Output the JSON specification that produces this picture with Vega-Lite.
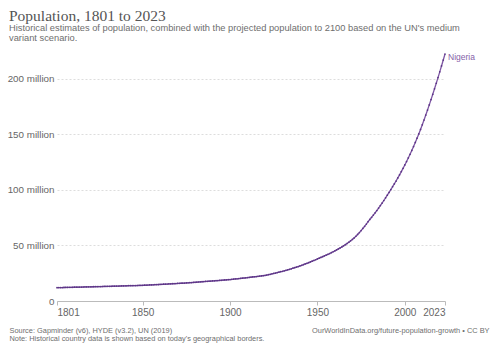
{
  "$schema": "https://vega.github.io/schema/vega-lite/v6.json",
  "width": 388,
  "height": 247,
  "autosize": {"type": "none"},
  "padding": {"left": 57, "top": 54, "right": 55, "bottom": 52},
  "background": "white",
  "view": {"stroke": null},
  "config": {"font": "Liberation Sans"},
  "title": {
    "text": "Population, 1801 to 2023",
    "subtitle": ["Historical estimates of population, combined with the projected population to 2100 based on the UN's medium", "variant scenario."],
    "anchor": "start",
    "frame": "group",
    "dx": -48,
    "offset": 8,
    "font": "Liberation Serif",
    "fontSize": 15.5,
    "fontWeight": "normal",
    "color": "#555555",
    "subtitleFont": "Liberation Sans",
    "subtitleFontSize": 9.3,
    "subtitleColor": "#6e6e6e",
    "subtitleLineHeight": 9.8,
    "subtitlePadding": 0
  },
  "data": {"values": [
    {"country": "Nigeria", "year": 1801, "population_million": 12.00},
    {"country": "Nigeria", "year": 1802, "population_million": 12.04},
    {"country": "Nigeria", "year": 1803, "population_million": 12.08},
    {"country": "Nigeria", "year": 1804, "population_million": 12.12},
    {"country": "Nigeria", "year": 1805, "population_million": 12.16},
    {"country": "Nigeria", "year": 1806, "population_million": 12.20},
    {"country": "Nigeria", "year": 1807, "population_million": 12.24},
    {"country": "Nigeria", "year": 1808, "population_million": 12.28},
    {"country": "Nigeria", "year": 1809, "population_million": 12.32},
    {"country": "Nigeria", "year": 1810, "population_million": 12.36},
    {"country": "Nigeria", "year": 1811, "population_million": 12.40},
    {"country": "Nigeria", "year": 1812, "population_million": 12.44},
    {"country": "Nigeria", "year": 1813, "population_million": 12.48},
    {"country": "Nigeria", "year": 1814, "population_million": 12.52},
    {"country": "Nigeria", "year": 1815, "population_million": 12.56},
    {"country": "Nigeria", "year": 1816, "population_million": 12.60},
    {"country": "Nigeria", "year": 1817, "population_million": 12.64},
    {"country": "Nigeria", "year": 1818, "population_million": 12.68},
    {"country": "Nigeria", "year": 1819, "population_million": 12.72},
    {"country": "Nigeria", "year": 1820, "population_million": 12.76},
    {"country": "Nigeria", "year": 1821, "population_million": 12.80},
    {"country": "Nigeria", "year": 1822, "population_million": 12.84},
    {"country": "Nigeria", "year": 1823, "population_million": 12.88},
    {"country": "Nigeria", "year": 1824, "population_million": 12.92},
    {"country": "Nigeria", "year": 1825, "population_million": 12.96},
    {"country": "Nigeria", "year": 1826, "population_million": 13.00},
    {"country": "Nigeria", "year": 1827, "population_million": 13.04},
    {"country": "Nigeria", "year": 1828, "population_million": 13.08},
    {"country": "Nigeria", "year": 1829, "population_million": 13.12},
    {"country": "Nigeria", "year": 1830, "population_million": 13.16},
    {"country": "Nigeria", "year": 1831, "population_million": 13.20},
    {"country": "Nigeria", "year": 1832, "population_million": 13.25},
    {"country": "Nigeria", "year": 1833, "population_million": 13.30},
    {"country": "Nigeria", "year": 1834, "population_million": 13.35},
    {"country": "Nigeria", "year": 1835, "population_million": 13.40},
    {"country": "Nigeria", "year": 1836, "population_million": 13.45},
    {"country": "Nigeria", "year": 1837, "population_million": 13.50},
    {"country": "Nigeria", "year": 1838, "population_million": 13.55},
    {"country": "Nigeria", "year": 1839, "population_million": 13.60},
    {"country": "Nigeria", "year": 1840, "population_million": 13.65},
    {"country": "Nigeria", "year": 1841, "population_million": 13.70},
    {"country": "Nigeria", "year": 1842, "population_million": 13.74},
    {"country": "Nigeria", "year": 1843, "population_million": 13.78},
    {"country": "Nigeria", "year": 1844, "population_million": 13.82},
    {"country": "Nigeria", "year": 1845, "population_million": 13.86},
    {"country": "Nigeria", "year": 1846, "population_million": 13.90},
    {"country": "Nigeria", "year": 1847, "population_million": 13.94},
    {"country": "Nigeria", "year": 1848, "population_million": 13.98},
    {"country": "Nigeria", "year": 1849, "population_million": 14.04},
    {"country": "Nigeria", "year": 1850, "population_million": 14.10},
    {"country": "Nigeria", "year": 1851, "population_million": 14.18},
    {"country": "Nigeria", "year": 1852, "population_million": 14.26},
    {"country": "Nigeria", "year": 1853, "population_million": 14.34},
    {"country": "Nigeria", "year": 1854, "population_million": 14.42},
    {"country": "Nigeria", "year": 1855, "population_million": 14.50},
    {"country": "Nigeria", "year": 1856, "population_million": 14.58},
    {"country": "Nigeria", "year": 1857, "population_million": 14.66},
    {"country": "Nigeria", "year": 1858, "population_million": 14.74},
    {"country": "Nigeria", "year": 1859, "population_million": 14.82},
    {"country": "Nigeria", "year": 1860, "population_million": 14.90},
    {"country": "Nigeria", "year": 1861, "population_million": 14.99},
    {"country": "Nigeria", "year": 1862, "population_million": 15.08},
    {"country": "Nigeria", "year": 1863, "population_million": 15.17},
    {"country": "Nigeria", "year": 1864, "population_million": 15.26},
    {"country": "Nigeria", "year": 1865, "population_million": 15.35},
    {"country": "Nigeria", "year": 1866, "population_million": 15.44},
    {"country": "Nigeria", "year": 1867, "population_million": 15.53},
    {"country": "Nigeria", "year": 1868, "population_million": 15.62},
    {"country": "Nigeria", "year": 1869, "population_million": 15.71},
    {"country": "Nigeria", "year": 1870, "population_million": 15.80},
    {"country": "Nigeria", "year": 1871, "population_million": 15.89},
    {"country": "Nigeria", "year": 1872, "population_million": 15.98},
    {"country": "Nigeria", "year": 1873, "population_million": 16.07},
    {"country": "Nigeria", "year": 1874, "population_million": 16.16},
    {"country": "Nigeria", "year": 1875, "population_million": 16.25},
    {"country": "Nigeria", "year": 1876, "population_million": 16.37},
    {"country": "Nigeria", "year": 1877, "population_million": 16.49},
    {"country": "Nigeria", "year": 1878, "population_million": 16.61},
    {"country": "Nigeria", "year": 1879, "population_million": 16.73},
    {"country": "Nigeria", "year": 1880, "population_million": 16.85},
    {"country": "Nigeria", "year": 1881, "population_million": 16.97},
    {"country": "Nigeria", "year": 1882, "population_million": 17.09},
    {"country": "Nigeria", "year": 1883, "population_million": 17.21},
    {"country": "Nigeria", "year": 1884, "population_million": 17.33},
    {"country": "Nigeria", "year": 1885, "population_million": 17.45},
    {"country": "Nigeria", "year": 1886, "population_million": 17.57},
    {"country": "Nigeria", "year": 1887, "population_million": 17.69},
    {"country": "Nigeria", "year": 1888, "population_million": 17.81},
    {"country": "Nigeria", "year": 1889, "population_million": 17.93},
    {"country": "Nigeria", "year": 1890, "population_million": 18.05},
    {"country": "Nigeria", "year": 1891, "population_million": 18.17},
    {"country": "Nigeria", "year": 1892, "population_million": 18.29},
    {"country": "Nigeria", "year": 1893, "population_million": 18.41},
    {"country": "Nigeria", "year": 1894, "population_million": 18.53},
    {"country": "Nigeria", "year": 1895, "population_million": 18.65},
    {"country": "Nigeria", "year": 1896, "population_million": 18.78},
    {"country": "Nigeria", "year": 1897, "population_million": 18.91},
    {"country": "Nigeria", "year": 1898, "population_million": 19.04},
    {"country": "Nigeria", "year": 1899, "population_million": 19.17},
    {"country": "Nigeria", "year": 1900, "population_million": 19.30},
    {"country": "Nigeria", "year": 1901, "population_million": 19.47},
    {"country": "Nigeria", "year": 1902, "population_million": 19.64},
    {"country": "Nigeria", "year": 1903, "population_million": 19.81},
    {"country": "Nigeria", "year": 1904, "population_million": 19.98},
    {"country": "Nigeria", "year": 1905, "population_million": 20.15},
    {"country": "Nigeria", "year": 1906, "population_million": 20.33},
    {"country": "Nigeria", "year": 1907, "population_million": 20.51},
    {"country": "Nigeria", "year": 1908, "population_million": 20.69},
    {"country": "Nigeria", "year": 1909, "population_million": 20.87},
    {"country": "Nigeria", "year": 1910, "population_million": 21.05},
    {"country": "Nigeria", "year": 1911, "population_million": 21.24},
    {"country": "Nigeria", "year": 1912, "population_million": 21.43},
    {"country": "Nigeria", "year": 1913, "population_million": 21.62},
    {"country": "Nigeria", "year": 1914, "population_million": 21.81},
    {"country": "Nigeria", "year": 1915, "population_million": 22.00},
    {"country": "Nigeria", "year": 1916, "population_million": 22.20},
    {"country": "Nigeria", "year": 1917, "population_million": 22.40},
    {"country": "Nigeria", "year": 1918, "population_million": 22.60},
    {"country": "Nigeria", "year": 1919, "population_million": 22.80},
    {"country": "Nigeria", "year": 1920, "population_million": 23.00},
    {"country": "Nigeria", "year": 1921, "population_million": 23.35},
    {"country": "Nigeria", "year": 1922, "population_million": 23.70},
    {"country": "Nigeria", "year": 1923, "population_million": 24.05},
    {"country": "Nigeria", "year": 1924, "population_million": 24.40},
    {"country": "Nigeria", "year": 1925, "population_million": 24.75},
    {"country": "Nigeria", "year": 1926, "population_million": 25.15},
    {"country": "Nigeria", "year": 1927, "population_million": 25.55},
    {"country": "Nigeria", "year": 1928, "population_million": 25.95},
    {"country": "Nigeria", "year": 1929, "population_million": 26.35},
    {"country": "Nigeria", "year": 1930, "population_million": 26.75},
    {"country": "Nigeria", "year": 1931, "population_million": 27.20},
    {"country": "Nigeria", "year": 1932, "population_million": 27.65},
    {"country": "Nigeria", "year": 1933, "population_million": 28.10},
    {"country": "Nigeria", "year": 1934, "population_million": 28.55},
    {"country": "Nigeria", "year": 1935, "population_million": 29.00},
    {"country": "Nigeria", "year": 1936, "population_million": 29.50},
    {"country": "Nigeria", "year": 1937, "population_million": 30.00},
    {"country": "Nigeria", "year": 1938, "population_million": 30.50},
    {"country": "Nigeria", "year": 1939, "population_million": 31.00},
    {"country": "Nigeria", "year": 1940, "population_million": 31.50},
    {"country": "Nigeria", "year": 1941, "population_million": 32.10},
    {"country": "Nigeria", "year": 1942, "population_million": 32.70},
    {"country": "Nigeria", "year": 1943, "population_million": 33.30},
    {"country": "Nigeria", "year": 1944, "population_million": 33.90},
    {"country": "Nigeria", "year": 1945, "population_million": 34.50},
    {"country": "Nigeria", "year": 1946, "population_million": 35.15},
    {"country": "Nigeria", "year": 1947, "population_million": 35.80},
    {"country": "Nigeria", "year": 1948, "population_million": 36.45},
    {"country": "Nigeria", "year": 1949, "population_million": 37.10},
    {"country": "Nigeria", "year": 1950, "population_million": 37.86},
    {"country": "Nigeria", "year": 1951, "population_million": 38.50},
    {"country": "Nigeria", "year": 1952, "population_million": 39.20},
    {"country": "Nigeria", "year": 1953, "population_million": 39.90},
    {"country": "Nigeria", "year": 1954, "population_million": 40.60},
    {"country": "Nigeria", "year": 1955, "population_million": 41.30},
    {"country": "Nigeria", "year": 1956, "population_million": 42.00},
    {"country": "Nigeria", "year": 1957, "population_million": 42.70},
    {"country": "Nigeria", "year": 1958, "population_million": 43.50},
    {"country": "Nigeria", "year": 1959, "population_million": 44.30},
    {"country": "Nigeria", "year": 1960, "population_million": 45.14},
    {"country": "Nigeria", "year": 1961, "population_million": 45.99},
    {"country": "Nigeria", "year": 1962, "population_million": 46.85},
    {"country": "Nigeria", "year": 1963, "population_million": 47.73},
    {"country": "Nigeria", "year": 1964, "population_million": 48.66},
    {"country": "Nigeria", "year": 1965, "population_million": 49.65},
    {"country": "Nigeria", "year": 1966, "population_million": 50.69},
    {"country": "Nigeria", "year": 1967, "population_million": 51.78},
    {"country": "Nigeria", "year": 1968, "population_million": 52.91},
    {"country": "Nigeria", "year": 1969, "population_million": 54.10},
    {"country": "Nigeria", "year": 1970, "population_million": 55.38},
    {"country": "Nigeria", "year": 1971, "population_million": 56.76},
    {"country": "Nigeria", "year": 1972, "population_million": 58.25},
    {"country": "Nigeria", "year": 1973, "population_million": 59.85},
    {"country": "Nigeria", "year": 1974, "population_million": 61.55},
    {"country": "Nigeria", "year": 1975, "population_million": 63.37},
    {"country": "Nigeria", "year": 1976, "population_million": 65.30},
    {"country": "Nigeria", "year": 1977, "population_million": 67.20},
    {"country": "Nigeria", "year": 1978, "population_million": 69.20},
    {"country": "Nigeria", "year": 1979, "population_million": 71.30},
    {"country": "Nigeria", "year": 1980, "population_million": 73.42},
    {"country": "Nigeria", "year": 1981, "population_million": 75.30},
    {"country": "Nigeria", "year": 1982, "population_million": 77.30},
    {"country": "Nigeria", "year": 1983, "population_million": 79.30},
    {"country": "Nigeria", "year": 1984, "population_million": 81.40},
    {"country": "Nigeria", "year": 1985, "population_million": 83.60},
    {"country": "Nigeria", "year": 1986, "population_million": 85.80},
    {"country": "Nigeria", "year": 1987, "population_million": 88.10},
    {"country": "Nigeria", "year": 1988, "population_million": 90.40},
    {"country": "Nigeria", "year": 1989, "population_million": 92.80},
    {"country": "Nigeria", "year": 1990, "population_million": 95.21},
    {"country": "Nigeria", "year": 1991, "population_million": 97.70},
    {"country": "Nigeria", "year": 1992, "population_million": 100.20},
    {"country": "Nigeria", "year": 1993, "population_million": 102.80},
    {"country": "Nigeria", "year": 1994, "population_million": 105.30},
    {"country": "Nigeria", "year": 1995, "population_million": 107.90},
    {"country": "Nigeria", "year": 1996, "population_million": 110.70},
    {"country": "Nigeria", "year": 1997, "population_million": 113.50},
    {"country": "Nigeria", "year": 1998, "population_million": 116.40},
    {"country": "Nigeria", "year": 1999, "population_million": 119.30},
    {"country": "Nigeria", "year": 2000, "population_million": 122.35},
    {"country": "Nigeria", "year": 2001, "population_million": 125.46},
    {"country": "Nigeria", "year": 2002, "population_million": 128.67},
    {"country": "Nigeria", "year": 2003, "population_million": 131.97},
    {"country": "Nigeria", "year": 2004, "population_million": 135.39},
    {"country": "Nigeria", "year": 2005, "population_million": 138.94},
    {"country": "Nigeria", "year": 2006, "population_million": 142.63},
    {"country": "Nigeria", "year": 2007, "population_million": 146.42},
    {"country": "Nigeria", "year": 2008, "population_million": 150.27},
    {"country": "Nigeria", "year": 2009, "population_million": 154.32},
    {"country": "Nigeria", "year": 2010, "population_million": 158.50},
    {"country": "Nigeria", "year": 2011, "population_million": 162.81},
    {"country": "Nigeria", "year": 2012, "population_million": 167.23},
    {"country": "Nigeria", "year": 2013, "population_million": 171.77},
    {"country": "Nigeria", "year": 2014, "population_million": 176.40},
    {"country": "Nigeria", "year": 2015, "population_million": 181.14},
    {"country": "Nigeria", "year": 2016, "population_million": 185.96},
    {"country": "Nigeria", "year": 2017, "population_million": 190.87},
    {"country": "Nigeria", "year": 2018, "population_million": 195.87},
    {"country": "Nigeria", "year": 2019, "population_million": 200.96},
    {"country": "Nigeria", "year": 2020, "population_million": 206.14},
    {"country": "Nigeria", "year": 2021, "population_million": 211.40},
    {"country": "Nigeria", "year": 2022, "population_million": 216.75},
    {"country": "Nigeria", "year": 2023, "population_million": 222.18}
  ]},
  "resolve": {"axis": {"x": "independent"}},
  "layer": [
    {
      "mark": {"type": "line", "color": "#7d55a3", "strokeWidth": 1.3},
      "encoding": {
        "x": {
          "field": "year", "type": "quantitative",
          "scale": {"domain": [1801, 2023], "nice": false, "zero": false},
          "axis": {
            "values": [1801, 1850, 1900, 1950, 2000, 2023],
            "format": "d",
            "grid": false,
            "domainColor": "#bbbbbb",
            "tickColor": "#bbbbbb",
            "tickSize": 4,
            "labelColor": "#666666",
            "labelFontSize": 10,
            "labelPadding": 2,
            "title": ["Source: Gapminder (v6), HYDE (v3.2), UN (2019)", "Note: Historical country data is shown based on today's geographical borders."],
            "titleAnchor": "start",
            "titleAlign": "left",
            "titleBaseline": "top",
            "titleX": -48,
            "titleY": 25,
            "titleFontSize": 7.4,
            "titleFontWeight": "normal",
            "titleColor": "#6e6e6e",
            "titleLineHeight": 8.5
          }
        },
        "y": {
          "field": "population_million", "type": "quantitative",
          "scale": {"domain": [0, 222.18], "nice": false},
          "axis": {
            "values": [0, 50, 100, 150, 200],
            "labelExpr": "datum.value == 0 ? '0' : datum.value + ' million'",
            "domain": false,
            "ticks": false,
            "grid": true,
            "gridColor": "#dddddd",
            "gridDash": [2, 2],
            "labelColor": "#666666",
            "labelFontSize": 9.8,
            "labelPadding": 3,
            "title": null
          }
        }
      }
    },
    {
      "mark": {"type": "point", "filled": true, "color": "#5b3485", "size": 3, "opacity": 1},
      "encoding": {
        "x": {
          "field": "year", "type": "quantitative",
          "axis": {
            "orient": "bottom",
            "labels": false,
            "ticks": false,
            "domain": false,
            "grid": false,
            "title": "OurWorldInData.org/future-population-growth • CC BY",
            "titleAnchor": "end",
            "titleAlign": "right",
            "titleBaseline": "top",
            "titleX": 432,
            "titleY": 25,
            "titleFontSize": 7.4,
            "titleFontWeight": "normal",
            "titleColor": "#6e6e6e"
          }
        },
        "y": {"field": "population_million", "type": "quantitative"}
      }
    },
    {
      "transform": [{"filter": "datum.year == 2023"}],
      "mark": {"type": "text", "align": "left", "baseline": "middle", "dx": 3, "dy": 3, "color": "#8462a8", "fontSize": 8.5},
      "encoding": {
        "x": {"field": "year", "type": "quantitative", "axis": null},
        "y": {"field": "population_million", "type": "quantitative"},
        "text": {"field": "country"}
      }
    }
  ]
}
